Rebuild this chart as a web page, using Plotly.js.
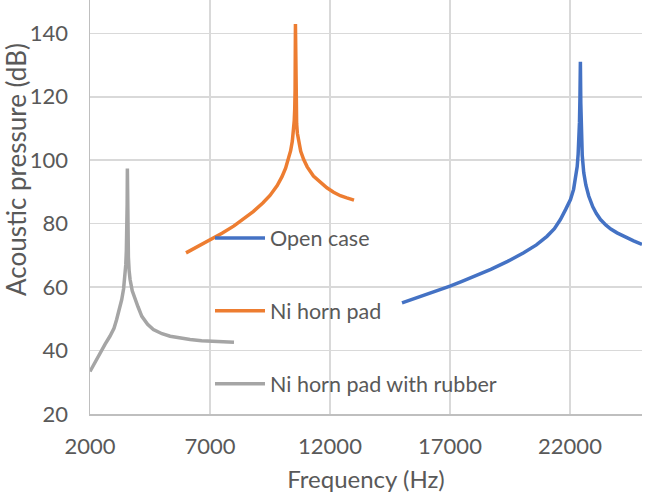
<!DOCTYPE html>
<html>
<head>
<meta charset="utf-8">
<script src="https://cdn.plot.ly/plotly-3.0.1.min.js"></script>
<style>html,body{margin:0;padding:0;background:#fff;}#chart{width:645px;height:498px;}</style>
</head>
<body>
<div id="chart"></div>
<script>
// Open case
var openX = [15000, 15500, 16000, 16500, 17000, 17500, 18000, 18700, 19400, 20070, 20600, 21040, 21350, 21600, 21820, 22020, 22150, 22230, 22300, 22340, 22370, 22395, 22415, 22433, 22450, 22475, 22510, 22572, 22660, 22780, 22950, 23100, 23270, 23500, 23700, 23960, 24300, 24650, 25000];
var openY = [55.0, 56.3, 57.6, 58.9, 60.3, 61.8, 63.3, 65.6, 68.1, 70.8, 73.3, 76.0, 78.4, 81.3, 84.5, 87.6, 90.8, 94.0, 98.0, 102.0, 106.6, 112.0, 120.0, 131.0, 118.0, 108.0, 101.5, 96.1, 92.2, 88.7, 85.3, 83.2, 81.3, 79.5, 78.3, 77.1, 75.8, 74.6, 73.5];

// Ni horn pad
var padX = [6000, 6500, 7000, 7500, 8000, 8400, 8800, 9200, 9500, 9800, 10000, 10150, 10270, 10360, 10430, 10480, 10510, 10530, 10545, 10560, 10575, 10590, 10610, 10640, 10690, 10780, 10900, 11050, 11310, 11600, 11870, 12150, 12430, 12700, 13000];
var padY = [70.8, 72.8, 74.9, 77.0, 79.3, 81.4, 83.8, 86.5, 88.9, 92.0, 94.8, 97.5, 100.3, 103.0, 106.0, 109.0, 112.5, 116.0, 122.0, 142.9, 122.0, 116.0, 111.5, 108.5, 105.8, 102.8, 100.3, 97.9, 95.0, 92.9, 91.3, 89.9, 88.8, 88.1, 87.4];

// Ni horn pad with rubber
var rubX = [2000, 2200, 2420, 2630, 2830, 3000, 3110, 3220, 3320, 3400, 3450, 3490, 3515, 3535, 3548, 3557, 3567, 3580, 3600, 3630, 3670, 3760, 3880, 4000, 4160, 4400, 4640, 5000, 5340, 5750, 6170, 6650, 7140, 7600, 8000];
var rubY = [33.4, 36.3, 39.3, 42.0, 44.5, 47.0, 49.8, 52.8, 56.0, 59.5, 63.0, 67.0, 71.5, 78.0, 86.0, 97.4, 86.0, 76.0, 69.5, 65.2, 62.4, 58.8, 56.0, 53.8, 50.8, 48.3, 46.6, 45.3, 44.5, 43.9, 43.5, 43.1, 42.9, 42.7, 42.6];

var seriesNames = ["Open case", "Ni horn pad", "Ni horn pad with rubber"];
var seriesColors = ["#4472C4", "#ED7D31", "#A5A5A5"];

var xTicks = [2000, 7000, 12000, 17000, 22000];
var yTicks = [20, 40, 60, 80, 100, 120, 140];

var xs = [openX, padX, rubX];
var ys = [openY, padY, rubY];
var traces = [];
for (var i = 0; i < 3; i++) {
  traces.push({
    x: xs[i], y: ys[i], name: seriesNames[i], type: "scatter", mode: "lines",
    legendgroup: "g" + i,
    line: {color: seriesColors[i], width: 3.5}
  });
}

var fontFam = "Lato, 'Open Sans', sans-serif";
var layout = {
  width: 645, height: 498,
  margin: {l: 90, r: 3, t: 0, b: 84, pad: 0},
  paper_bgcolor: "#ffffff", plot_bgcolor: "#ffffff",
  font: {family: fontFam, color: "#595959", size: 20},
  showlegend: true,
  legend: {
    x: 0.2174, y: 0.249, xanchor: "left", yanchor: "middle",
    bgcolor: "rgba(0,0,0,0)", borderwidth: 0,
    font: {family: fontFam, size: 21.5, color: "#595959"},
    traceorder: "grouped", tracegroupgap: 42, itemwidth: 50
  },
  xaxis: {
    range: [2000, 25000], tickvals: xTicks, ticktext: xTicks.map(String),
    showgrid: true, gridcolor: "#d9d9d9", gridwidth: 1.5,
    showline: true, linecolor: "#bfbfbf", linewidth: 1.5,
    zeroline: false, ticks: "", ticklabelstandoff: 12,
    tickfont: {family: fontFam, size: 22, color: "#595959"},
    title: {text: "Frequency (Hz)", font: {family: fontFam, size: 24, color: "#595959"}, standoff: 13}
  },
  yaxis: {
    range: [20, 150.5], tickvals: yTicks, ticktext: yTicks.map(String),
    showgrid: true, gridcolor: "#d9d9d9", gridwidth: 1.5,
    showline: true, linecolor: "#bfbfbf", linewidth: 1.5,
    zeroline: false, ticks: "", ticklabelstandoff: 16,
    tickfont: {family: fontFam, size: 22, color: "#595959"}
  },
  annotations: [{
    text: "Acoustic pressure (dB)", textangle: -90, showarrow: false,
    xref: "paper", yref: "paper", x: (16 - 90) / 552, y: (414 - 170) / 414,
    xanchor: "center", yanchor: "middle",
    font: {family: fontFam, size: 26, color: "#595959"}
  }]
};

Plotly.newPlot("chart", traces, layout, {displayModeBar: false, staticPlot: true});
</script>
</body>
</html>
